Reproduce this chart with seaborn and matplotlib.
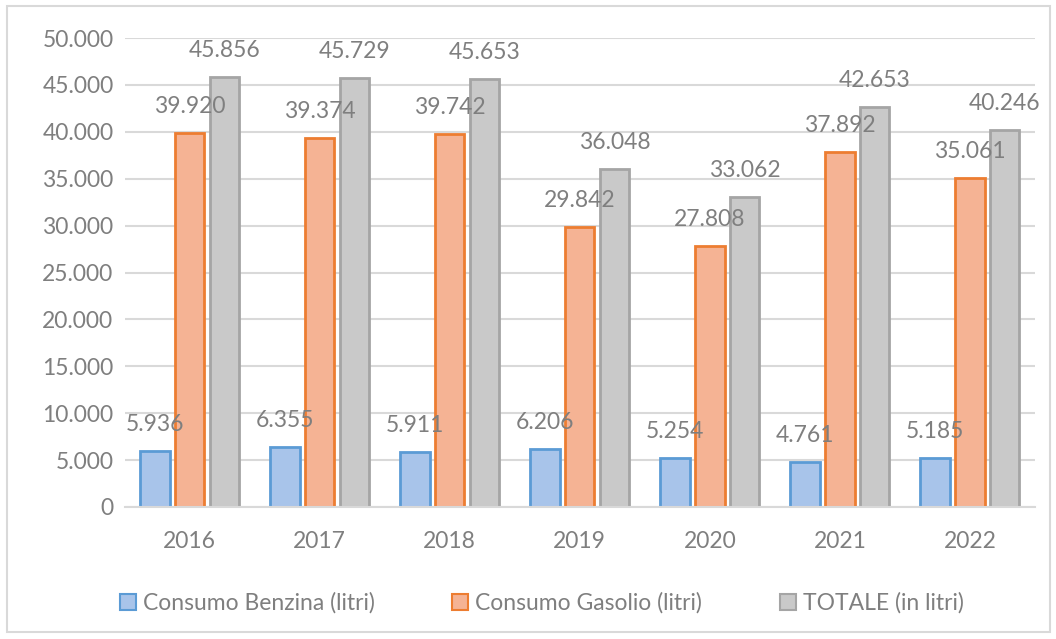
import pandas as pd
import seaborn as sns
import matplotlib.pyplot as plt
from matplotlib.patches import Patch, Rectangle

# dati
anni = ['2016', '2017', '2018', '2019', '2020', '2021', '2022']
benzina = [5936, 6355, 5911, 6206, 5254, 4761, 5185]
gasolio = [39920, 39374, 39742, 29842, 27808, 37892, 35061]
totale = [45856, 45729, 45653, 36048, 33062, 42653, 40246]
serie = ['Consumo Benzina (litri)', 'Consumo Gasolio (litri)', 'TOTALE (in litri)']

fill_colors = ['#a8c4ea', '#f5b394', '#c9c9c9']
edge_colors = ['#5b9bd5', '#ed7d31', '#a5a5a5']
text_color = '#7f7f7f'
grid_color = '#d9d9d9'

df = pd.DataFrame({
    'Anno': anni * 3,
    'Serie': [serie[0]] * 7 + [serie[1]] * 7 + [serie[2]] * 7,
    'Litri': benzina + gasolio + totale,
})

sns.set_theme(style='white')
plt.rcParams['font.family'] = ['Lato', 'DejaVu Sans']

fig = plt.figure(figsize=(10.56, 6.39), dpi=100)
ax = fig.add_axes([0.118, 0.2066, 0.862, 0.7339])

sns.barplot(data=df, x='Anno', y='Litri', hue='Serie', hue_order=serie,
            width=0.8, gap=0.15, ax=ax, legend=False, errorbar=None)

def fmt(v):
    return f"{int(v):,}".replace(',', '.')

# colori e etichette dati
for i, cont in enumerate(ax.containers):
    for bar in cont:
        bar.set_facecolor(fill_colors[i])
        bar.set_edgecolor(edge_colors[i])
        bar.set_linewidth(2)
        h = bar.get_height()
        ax.annotate(fmt(h), (bar.get_x() + bar.get_width() / 2, h),
                    xytext=(0, 19), textcoords='offset points',
                    ha='center', va='center', fontsize=16.5, color=text_color)

ax.set_ylim(0, 50000)
ax.set_xlim(-0.5, 6.5)
ax.set_yticks(range(0, 50001, 5000))
ax.set_yticklabels([fmt(v) for v in range(0, 50001, 5000)])
ax.yaxis.grid(True, color=grid_color, linewidth=1.5)
ax.set_axisbelow(True)
for s in ['top', 'right', 'left']:
    ax.spines[s].set_visible(False)
ax.spines['bottom'].set_color(grid_color)
ax.spines['bottom'].set_linewidth(1.5)
ax.tick_params(axis='both', length=0, labelsize=16.5, labelcolor=text_color)
ax.tick_params(axis='x', pad=17)
ax.tick_params(axis='y', pad=8)
ax.set_xlabel('')
ax.set_ylabel('')

handles = [Patch(facecolor=fill_colors[i], edgecolor=edge_colors[i], linewidth=1.5, label=serie[i])
           for i in range(3)]
leg = fig.legend(handles=handles, loc='center', bbox_to_anchor=(0.513, 0.056), ncol=3,
                 frameon=False, fontsize=16.5, handlelength=0.7, handleheight=0.7,
                 handletextpad=0.3, columnspacing=3.4)
for t in leg.get_texts():
    t.set_color(text_color)

# cornice esterna
fig.patches.append(Rectangle((0.007, 0.011), 0.987, 0.98, transform=fig.transFigure,
                             fill=False, edgecolor=grid_color, linewidth=1.5))

plt.savefig('out.png', dpi=100)
